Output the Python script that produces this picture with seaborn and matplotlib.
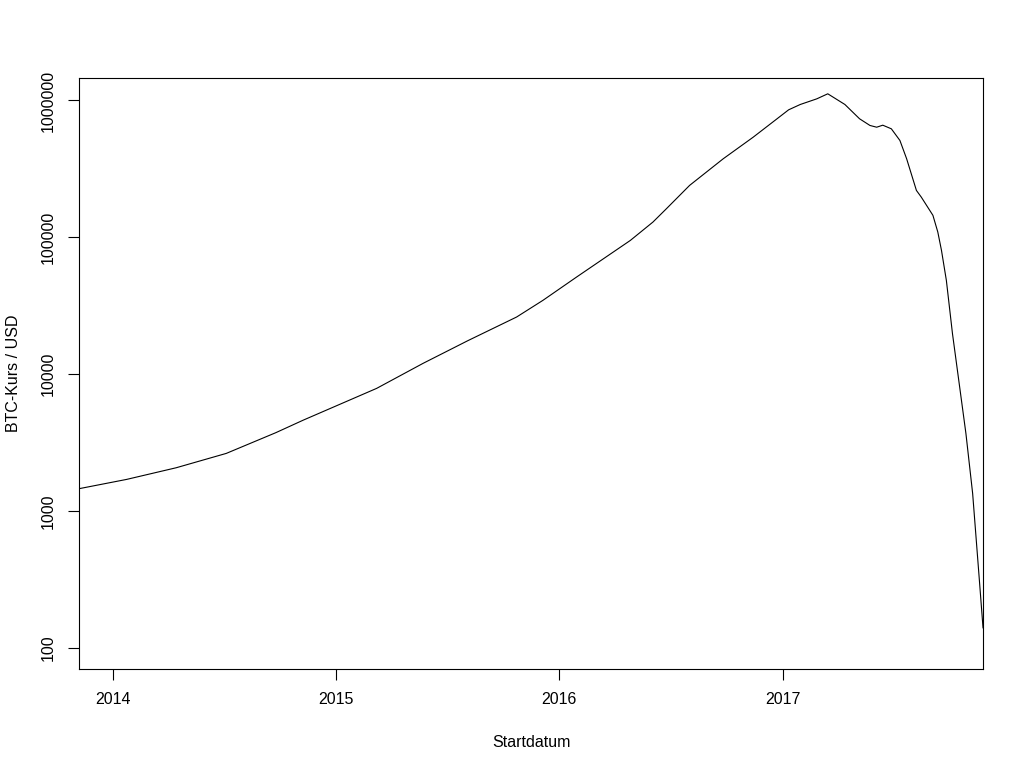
import pandas as pd
import numpy as np
import matplotlib
matplotlib.use("Agg")
import matplotlib.pyplot as plt
import matplotlib.dates as mdates
from matplotlib.ticker import FixedLocator, FuncFormatter, NullLocator
import seaborn as sns

# DATA

start_dates = [
    "2013-11-06", "2014-01-23", "2014-04-14", "2014-07-05", "2014-09-24",
    "2014-11-08", "2015-03-08", "2015-05-23", "2015-08-04", "2015-10-23",
    "2015-12-05", "2016-01-29",
    "2016-04-26", "2016-06-02", "2016-06-24", "2016-08-01", "2016-09-25",
    "2016-11-13", "2016-12-22", "2017-01-10", "2017-01-29", "2017-02-25",
    "2017-03-15", "2017-04-12", "2017-05-06", "2017-05-23", "2017-06-03",
    "2017-06-13", "2017-06-27", "2017-07-11", "2017-07-22", "2017-08-07",
    "2017-08-15", "2017-09-03", "2017-09-11", "2017-09-17", "2017-09-25",
    "2017-10-05", "2017-10-16", "2017-10-27", "2017-11-07", "2017-11-18",
    "2017-11-24",
]

btc_value = [
    1459, 1706, 2075, 2642, 3743,
    4624, 7888, 12020, 17580, 26200,
    34670, 51290,
    95000, 129400, 161900, 239800, 375300,
    539500, 735100, 855000, 935000, 1028000,
    1119000, 935000, 735100, 657000, 638000,
    660000, 621000, 510500, 375300, 220300,
    196800, 144900, 109400, 80400, 48500,
    19800, 8550, 3690, 1346, 313,
    140,
]

y_ticks = [100, 1000, 10000, 100000, 1000000]

df = pd.DataFrame({
    "Startdatum": pd.to_datetime(start_dates),
    "Wert": btc_value
})

# PLOT

sns.set_style("white")
plt.rcParams["font.family"] = ["Liberation Sans", "DejaVu Sans"]
plt.rcParams["text.color"] = "black"
plt.rcParams["axes.labelcolor"] = "black"
plt.rcParams["xtick.color"] = "black"
plt.rcParams["ytick.color"] = "black"

fig = plt.figure(figsize=(10.24, 7.68), dpi=100)
ax = fig.add_axes([0.0771, 0.1289, 0.8829, 0.7695])

sns.lineplot(data=df, x="Startdatum", y="Wert", color="black",
             linewidth=0.8, ax=ax)

ax.set_yscale("log")
ax.set_ylim(70.3, 1.459e6)
ax.set_xlim(df["Startdatum"].min(), df["Startdatum"].max())

ax.yaxis.set_major_locator(FixedLocator(y_ticks))
ax.yaxis.set_minor_locator(NullLocator())
ax.yaxis.set_major_formatter(FuncFormatter(lambda v, p: str(int(round(v)))))

ax.xaxis.set_major_locator(mdates.YearLocator())
ax.xaxis.set_major_formatter(mdates.DateFormatter("%Y"))

for spine in ax.spines.values():
    spine.set_visible(True)
    spine.set_color("black")
    spine.set_linewidth(0.8)

ax.tick_params(axis="both", which="major", direction="out", length=7.7,
               width=0.8, color="black", labelsize=11.5, pad=9,
               bottom=True, left=True)
plt.setp(ax.get_yticklabels(), rotation=90, va="center")

ax.set_xlabel("Startdatum", fontsize=11.5, labelpad=20)
ax.set_ylabel("BTC-Kurs / USD", fontsize=11.5, labelpad=14)

fig.savefig("out.png", dpi=100)
